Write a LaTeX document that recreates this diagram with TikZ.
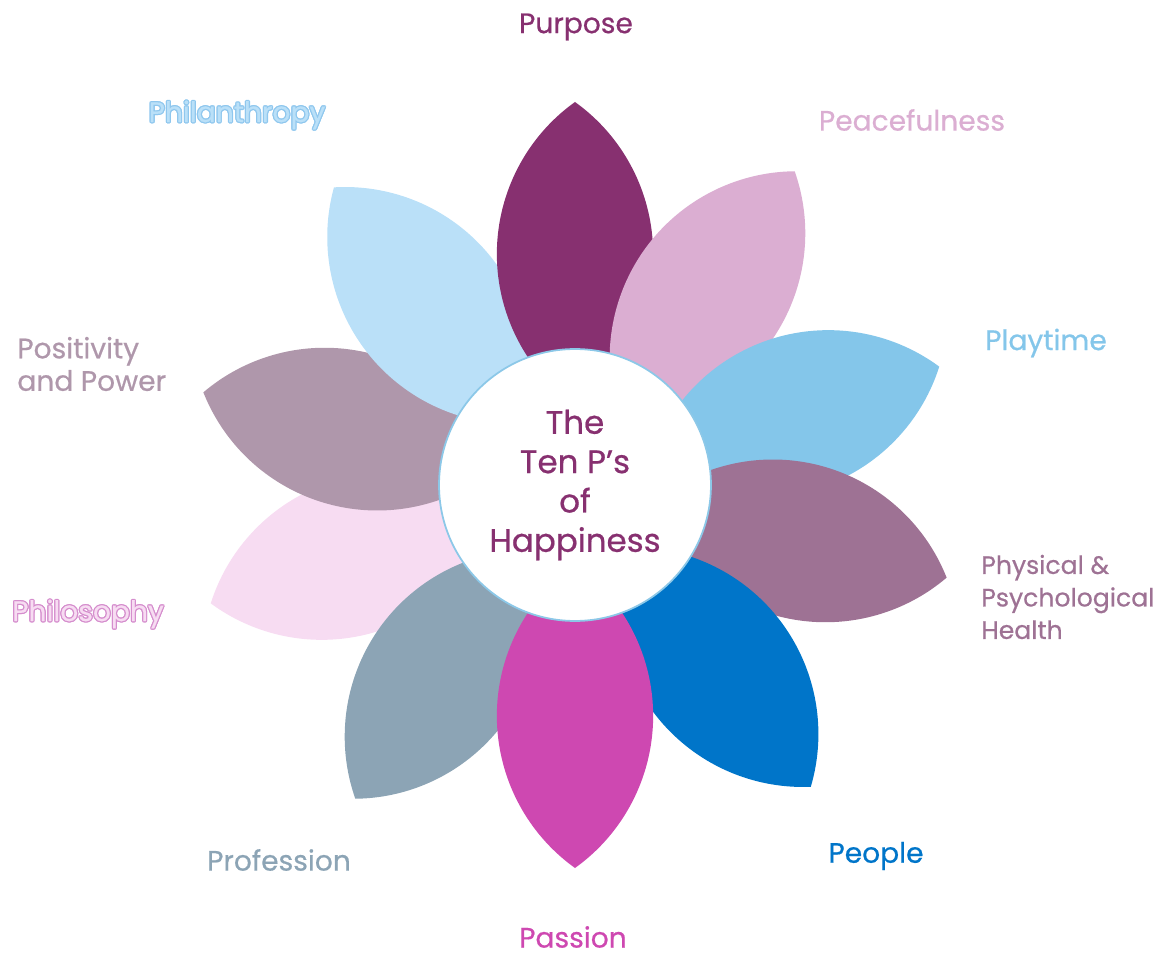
\documentclass[tikz,border=0pt]{standalone}
\usepackage{fontspec}
\setmainfont{Poppins}[FakeBold=0.6]
\usepackage{xcolor}
\definecolor{Plum}{HTML}{873070}
\definecolor{Orchid}{HTML}{DBAED2}
\definecolor{Azure}{HTML}{84C6EA}
\definecolor{Mauve}{HTML}{9E7294}
\definecolor{Cobalt}{HTML}{0075C9}
\definecolor{Magenta}{HTML}{CE48B1}
\definecolor{Slate}{HTML}{8CA4B5}
\definecolor{Blush}{HTML}{F7DCF2}
\definecolor{BlushRim}{HTML}{D58DCD}
\definecolor{Heather}{HTML}{AF97AB}
\definecolor{Sky}{HTML}{BAE0F8}
\definecolor{SkyRim}{HTML}{8FC7EE}
\definecolor{Ring}{HTML}{8CC8E8}

% text drawn with a thin rim of another colour
\newcommand{\rimtext}[3]{{\color{#1}\foreach \rx/\ry in {0.7/0,-0.7/0,0/0.7,0/-0.7,0.5/0.5,-0.5/0.5,0.5/-0.5,-0.5/-0.5}{\rlap{\hspace{\rx pt}\raisebox{\ry pt}{#3}}}}{\color{#2}#3}}

\begin{document}
\begin{tikzpicture}[
    x=0.02cm, y=0.02cm,
    tag/.style={font=\fontsize{16}{18.5}\selectfont, inner sep=0pt},
    hub/.style={circle, fill=white, draw=Ring, line width=1pt, minimum size=5.44cm,
        align=center, text=Plum, font=\fontsize{18.5}{22.4}\selectfont}
]
\useasboundingbox (-575,-471) rectangle (584,485);

% === Petals (back to front) ===
\foreach \ang/\col in {-162/Blush, -125/Slate, 166/Heather, 129/Sky, 90/Plum,
                       55/Orchid, 18/Azure, -14/Mauve, -52/Cobalt, -90/Magenta} {
    \fill[\col, rotate=\ang]
        (383,0) arc[start angle=35.6, end angle=144.4, radius=187]
                arc[start angle=215.6, end angle=324.4, radius=187] -- cycle;
}

% === Centre ===
\node[hub] (hub) at (0,0) {The\\Ten P’s\\of\\Happiness};

% === The ten P's ===
\node[tag, text=Plum] (purpose) at (1,458) {Purpose};
\node[tag, text=Orchid] (peace) at (337,365) {Peacefulness};
\node[tag, text=Azure] (play) at (471,142) {Playtime};
\node[tag, text=Mauve, anchor=west, align=left, font=\fontsize{14.3}{18.5}\selectfont]
    (health) at (406,-112) {Physical \&\\Psychological\\Health};
\node[tag, text=Cobalt] (people) at (301,-371) {People};
\node[tag, text=Magenta] (passion) at (-2,-452) {Passion};
\node[tag, text=Slate] (profession) at (-296,-375) {Profession};
\node[tag] (philosophy) at (-487,-129) {\rimtext{BlushRim}{Blush}{Philosophy}};
\node[tag, text=Heather, anchor=west, align=left] (positivity) at (-558,121)
    {Positivity\\and Power};
\node[tag] (philanthropy) at (-338,370) {\rimtext{SkyRim}{Sky}{Philanthropy}};

\end{tikzpicture}
\end{document}
